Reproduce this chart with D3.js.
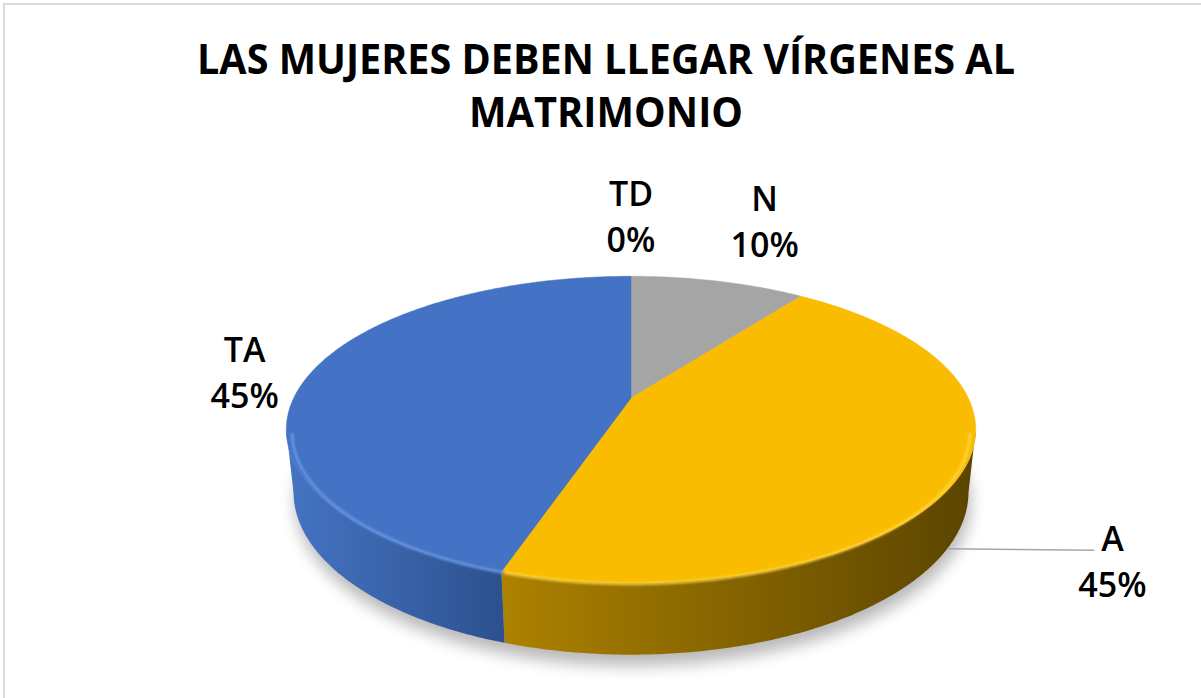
<!DOCTYPE html>
<html>
<head>
<meta charset="utf-8">
<script src="https://cdn.jsdelivr.net/npm/d3@7"></script>
<style>
  body { margin: 0; background: #fff; }
  svg { display: block; }
</style>
</head>
<body>
<div id="chart"></div>
<script>
const titleLines = ["LAS MUJERES DEBEN LLEGAR VÍRGENES AL", "MATRIMONIO"];
const categories = ["TD", "N", "A", "TA"];
const values = [0, 10, 45, 45];
const topColors = ["#5B9BD5", "#A5A5A5", "#F9BC00", "#4472C4"];
const wallColors = [["#4a7fc0", "#2e5f96"], ["#9a9a9a", "#6e6e6e"], ["#ad8200", "#5a4400"], ["#4574c4", "#2d518f"]];
const rimColors = ["#7fb3e8", "#c8c8c8", "#ffd84a", "#6f9ce6"];

const width = 1201;
const height = 698;

// camera / cylinder setup
const CX = 631, CY = 398;
const F = 1474, D = 4.37;
const tilt = 25.8 * Math.PI / 180;
const sA = Math.sin(tilt), cA = Math.cos(tilt);
const H = 0.205;

function project(theta, r, y) {
    const X = r * Math.sin(theta);
    const Z = r * Math.cos(theta);
    const yc = Z * sA + y * cA;
    const dc = D + Z * cA - y * sA;
    return [CX + F * X / dc, CY - F * yc / dc];
}

function arcPoints(a0, a1, r, y) {
    const n = Math.max(2, Math.ceil(Math.abs(a1 - a0) / 0.01));
    return d3.range(n + 1).map((i) => project(a0 + (a1 - a0) * i / n, r, y));
}

const svg = d3.select("#chart")
    .append("svg")
    .attr("width", width)
    .attr("height", height);

const defs = svg.append("defs");

defs.append("filter")
    .attr("id", "shadow")
    .attr("x", "-20%").attr("y", "-20%")
    .attr("width", "140%").attr("height", "140%")
    .append("feGaussianBlur")
    .attr("stdDeviation", 8);

defs.append("filter")
    .attr("id", "soft")
    .append("feGaussianBlur")
    .attr("stdDeviation", 1.2);

// chart frame
svg.append("rect")
    .attr("x", 4).attr("y", 4)
    .attr("width", width + 20).attr("height", height + 20)
    .attr("fill", "#fff")
    .attr("stroke", "#d9d9d9")
    .attr("stroke-width", 2);

// title
svg.selectAll(".title")
    .data(titleLines)
    .enter()
    .append("text")
    .attr("class", "title")
    .attr("x", 606)
    .attr("y", (d, i) => 74 + i * 53)
    .attr("text-anchor", "middle")
    .attr("textLength", (d, i) => i === 0 ? 818 : 274)
    .attr("lengthAdjust", "spacingAndGlyphs")
    .style("font-family", "'Open Sans', sans-serif")
    .style("font-weight", "700")
    .style("font-size", "41px")
    .style("fill", "#000")
    .text((d) => d);

const pie = d3.pie().sort(null).value((d) => d.value);
const slices = pie(categories.map((c, i) => ({ name: c, value: values[i], idx: i })));

const line = d3.line();

// shadow under the cylinder
const silhouette = arcPoints(0, 2 * Math.PI, 1, -H);
svg.append("path")
    .attr("d", line(silhouette) + "Z")
    .attr("transform", "translate(2,11)")
    .attr("fill", "#000")
    .attr("opacity", 0.28)
    .attr("filter", "url(#shadow)");

// visible range of the outer wall
const visA = Math.acos(-cA / D);
const visB = 2 * Math.PI - visA;

slices.forEach((s) => {
    const a0 = Math.max(s.startAngle, visA);
    const a1 = Math.min(s.endAngle, visB);
    if (a1 <= a0) return;
    const topPts = arcPoints(a0, a1, 1, 0);
    const botPts = arcPoints(a1, a0, 1, -H);
    const xs = topPts.map((p) => p[0]);
    const gid = "wall-" + s.data.idx;
    const g = defs.append("linearGradient")
        .attr("id", gid)
        .attr("gradientUnits", "userSpaceOnUse")
        .attr("x1", d3.min(xs)).attr("y1", 0)
        .attr("x2", d3.max(xs)).attr("y2", 0);
    g.append("stop").attr("offset", "0%").attr("stop-color", wallColors[s.data.idx][0]);
    g.append("stop").attr("offset", "100%").attr("stop-color", wallColors[s.data.idx][1]);
    svg.append("path")
        .attr("d", line(topPts.concat(botPts)) + "Z")
        .attr("fill", `url(#${gid})`);
});

// top faces
slices.forEach((s) => {
    if (s.endAngle - s.startAngle <= 0) return;
    const pts = [project(0, 0, 0)].concat(arcPoints(s.startAngle, s.endAngle, 1, 0));
    svg.append("path")
        .attr("d", line(pts) + "Z")
        .attr("fill", topColors[s.data.idx])
        .attr("stroke", topColors[s.data.idx])
        .attr("stroke-width", 0.5);
});

// bevel highlight along the front rim
slices.forEach((s) => {
    const a0 = Math.max(s.startAngle, visA);
    const a1 = Math.min(s.endAngle, visB);
    if (a1 <= a0) return;
    svg.append("path")
        .attr("d", line(arcPoints(a0, a1, 0.985, -0.012)))
        .attr("fill", "none")
        .attr("stroke", rimColors[s.data.idx])
        .attr("stroke-width", 3)
        .attr("opacity", 0.8)
        .attr("filter", "url(#soft)");
});

// data labels
const labelNudge = [[0, 0], [29, -1], [56, 105], [14, 38]];

slices.forEach((s) => {
    const mid = (s.startAngle + s.endAngle) / 2;
    const p = project(mid, 1.25, 0);
    const x = p[0] + labelNudge[s.data.idx][0];
    const y = p[1] + labelNudge[s.data.idx][1];
    const t = svg.append("text")
        .attr("text-anchor", "middle")
        .style("font-family", "'Open Sans', sans-serif")
        .style("font-weight", "600")
        .style("font-size", "34px")
        .style("fill", "#000");
    t.append("tspan").attr("x", x).attr("y", y - 46).text(s.data.name);
    t.append("tspan").attr("x", x).attr("y", y).text(`${s.data.value}%`);

    if (s.data.name === "A") {
        const start = project(121 * Math.PI / 180, 1, -H);
        svg.append("path")
            .attr("d", line([start, [x - 18, y - 47]]))
            .attr("fill", "none")
            .attr("stroke", "#a6a6a6")
            .attr("stroke-width", 1.5);
    }
});
</script>
</body>
</html>
